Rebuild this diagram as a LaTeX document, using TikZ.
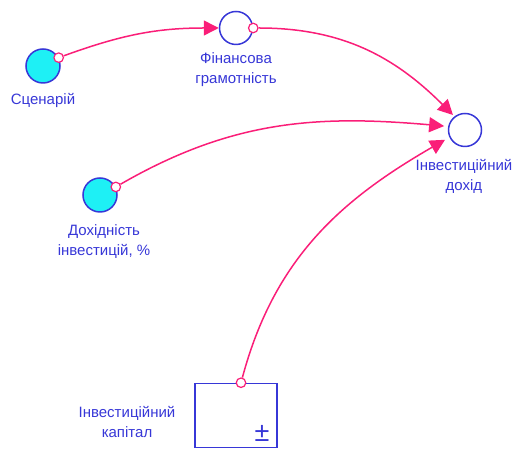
\documentclass[tikz,border=0pt]{standalone}
\usepackage{fontspec}
\setmainfont{Liberation Sans}
\usetikzlibrary{arrows.meta,positioning}

\definecolor{linkpink}{RGB}{250,30,120}
\definecolor{varblue}{RGB}{55,55,215}
\definecolor{inputcyan}{RGB}{30,240,245}

\tikzset{
  var/.style={circle,draw=varblue,line width=1.5pt,fill=white,minimum size=33pt,inner sep=0pt},
  input/.style={var,fill=inputcyan,minimum size=34pt},
  stock/.style={rectangle,draw=varblue,line width=1.5pt,minimum width=82pt,minimum height=64pt,inner sep=0pt},
  port/.style={circle,draw=linkpink,line width=1.2pt,fill=white,minimum size=9.5pt,inner sep=0pt},
  link/.style={draw=linkpink,line width=1.5pt,-{Triangle[length=15pt,width=15pt]}},
  lbl/.style={text=varblue,align=center,font=\fontsize{15}{20}\selectfont,inner sep=0pt}
}

\begin{document}
\begin{tikzpicture}[x=1pt,y=1pt]
\path[use as bounding box] (0,0) rectangle (514,449);
% variables
\node[input] (scen) at (43,383) {};
\node[var] (fin) at (236,421) {};
\node[var] (dohid) at (465,319) {};
\node[input] (dohidn) at (100,254) {};
\node[stock] (cap) at (236,33.5) {};
\node[text=varblue,font=\fontsize{27}{27}\selectfont,inner sep=0pt] (pm) at (262,16) {±};
% labels
\node[lbl] (scenL) at (43,349) {Сценарій};
\node[lbl] (finL) at (236,379) {Фінансова\\грамотність};
\node[lbl] (dohidL) at (464,273) {Інвестиційний\\дохід};
\node[lbl] (dohidnL) at (104,207) {Дохідність\\інвестицій, \%};
\node[lbl] (capL) at (127,27) {Інвестиційний\\капітал};
% ports
\node[port] (scenP) at (scen.28) {};
\node[port] (finP) at (fin.0) {};
\node[port] (dohidnP) at (dohidn.27) {};
\node[port] (capP) at ([xshift=5pt]cap.north) {};
% links
\draw[link] (scenP) to[out=20,in=180] (fin);
\draw[link,shorten >=2pt] (finP) to[out=0,in=135] (dohid.128);
\draw[link,shorten >=4pt] (dohidnP) to[out=30,in=175] (dohid.168);
\draw[link,shorten >=5pt] (capP) to[out=75,in=210] (dohid.205);
\end{tikzpicture}
\end{document}
